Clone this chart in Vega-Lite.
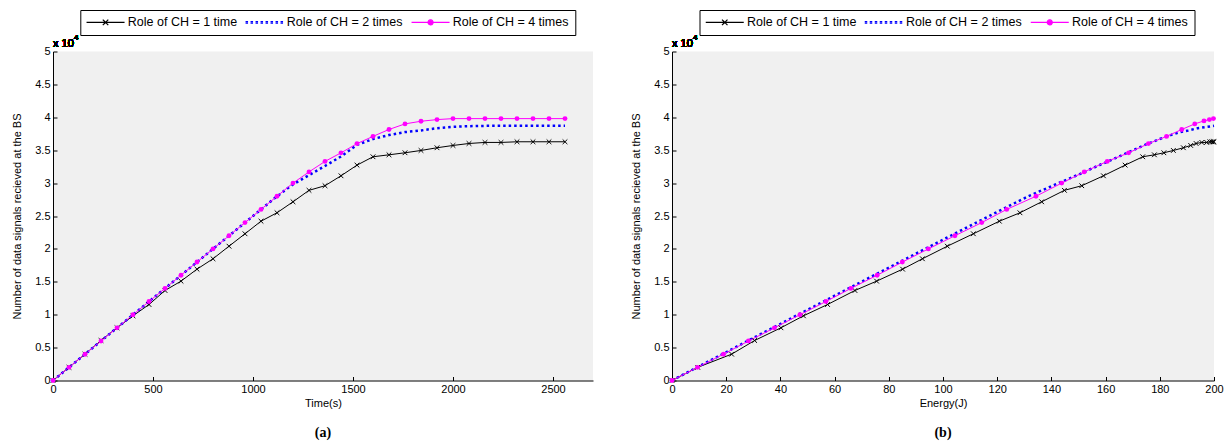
{
  "$schema": "https://vega.github.io/schema/vega-lite/v6.json",
  "padding": {"left": 11, "top": 9.5, "right": 5, "bottom": 2},
  "spacing": 37,
  "resolve": {
    "scale": {"fill": "independent", "stroke": "independent", "shape": "independent", "strokeDash": "independent"},
    "legend": {"fill": "independent", "stroke": "independent", "shape": "independent", "strokeDash": "independent"}
  },
  "config": {
    "view": {"stroke": null, "fill": "#f0f0f0"},
    "font": "Liberation Sans",
    "axis": {
      "domainColor": "#000000", "domainWidth": 1, "tickColor": "#000000", "tickSize": -4, "tickWidth": 1,
      "labelFont": "Liberation Sans", "labelFontSize": 11, "labelColor": "#000000", "labelFlush": false,
      "titleFont": "Liberation Sans", "titleFontSize": 11, "titleFontWeight": "normal", "titleColor": "#000000",
      "grid": false
    },
    "axisX": {"labelPadding": 7, "titlePadding": 3, "format": "d"},
    "axisY": {"labelPadding": 7, "titlePadding": 12.7},
    "legend": {
      "labelFont": "Liberation Sans", "labelFontSize": 12.5, "labelColor": "#000000", "labelLimit": 300,
      "strokeColor": "#000000", "fillColor": "#ffffff", "padding": 6, "columnPadding": 5,
      "symbolSize": 100, "symbolOffset": 13, "labelOffset": 16, "symbolStrokeWidth": 1.2, "symbolOpacity": 1
    },
    "title": {"font": "Liberation Serif", "fontSize": 14, "fontWeight": "bold", "color": "#000000"}
  },
  "datasets": {
    "time": [
      {"series": "Role of CH = 1 time", "time": 0, "signals": 0},
      {"series": "Role of CH = 1 time", "time": 80, "signals": 2000},
      {"series": "Role of CH = 1 time", "time": 160, "signals": 4000},
      {"series": "Role of CH = 1 time", "time": 240, "signals": 6080},
      {"series": "Role of CH = 1 time", "time": 320, "signals": 8010},
      {"series": "Role of CH = 1 time", "time": 400, "signals": 9830},
      {"series": "Role of CH = 1 time", "time": 480, "signals": 11550},
      {"series": "Role of CH = 1 time", "time": 560, "signals": 13680},
      {"series": "Role of CH = 1 time", "time": 640, "signals": 15100},
      {"series": "Role of CH = 1 time", "time": 720, "signals": 16920},
      {"series": "Role of CH = 1 time", "time": 800, "signals": 18500},
      {"series": "Role of CH = 1 time", "time": 880, "signals": 20410},
      {"series": "Role of CH = 1 time", "time": 960, "signals": 22300},
      {"series": "Role of CH = 1 time", "time": 1040, "signals": 24210},
      {"series": "Role of CH = 1 time", "time": 1120, "signals": 25490},
      {"series": "Role of CH = 1 time", "time": 1200, "signals": 27160},
      {"series": "Role of CH = 1 time", "time": 1280, "signals": 28900},
      {"series": "Role of CH = 1 time", "time": 1360, "signals": 29600},
      {"series": "Role of CH = 1 time", "time": 1440, "signals": 31110},
      {"series": "Role of CH = 1 time", "time": 1520, "signals": 32730},
      {"series": "Role of CH = 1 time", "time": 1600, "signals": 34000},
      {"series": "Role of CH = 1 time", "time": 1680, "signals": 34300},
      {"series": "Role of CH = 1 time", "time": 1760, "signals": 34610},
      {"series": "Role of CH = 1 time", "time": 1840, "signals": 34960},
      {"series": "Role of CH = 1 time", "time": 1920, "signals": 35370},
      {"series": "Role of CH = 1 time", "time": 2000, "signals": 35720},
      {"series": "Role of CH = 1 time", "time": 2080, "signals": 36020},
      {"series": "Role of CH = 1 time", "time": 2160, "signals": 36180},
      {"series": "Role of CH = 1 time", "time": 2240, "signals": 36180},
      {"series": "Role of CH = 1 time", "time": 2320, "signals": 36280},
      {"series": "Role of CH = 1 time", "time": 2400, "signals": 36280},
      {"series": "Role of CH = 1 time", "time": 2480, "signals": 36280},
      {"series": "Role of CH = 1 time", "time": 2560, "signals": 36280},
      {"series": "Role of CH = 2 times", "time": 0, "signals": 0},
      {"series": "Role of CH = 2 times", "time": 80, "signals": 2000},
      {"series": "Role of CH = 2 times", "time": 160, "signals": 4000},
      {"series": "Role of CH = 2 times", "time": 240, "signals": 6000},
      {"series": "Role of CH = 2 times", "time": 320, "signals": 8000},
      {"series": "Role of CH = 2 times", "time": 400, "signals": 10000},
      {"series": "Role of CH = 2 times", "time": 480, "signals": 12000},
      {"series": "Role of CH = 2 times", "time": 560, "signals": 14000},
      {"series": "Role of CH = 2 times", "time": 640, "signals": 16000},
      {"series": "Role of CH = 2 times", "time": 720, "signals": 18000},
      {"series": "Role of CH = 2 times", "time": 800, "signals": 20000},
      {"series": "Role of CH = 2 times", "time": 880, "signals": 22000},
      {"series": "Role of CH = 2 times", "time": 960, "signals": 24000},
      {"series": "Role of CH = 2 times", "time": 1040, "signals": 26000},
      {"series": "Role of CH = 2 times", "time": 1120, "signals": 28000},
      {"series": "Role of CH = 2 times", "time": 1200, "signals": 29800},
      {"series": "Role of CH = 2 times", "time": 1280, "signals": 31200},
      {"series": "Role of CH = 2 times", "time": 1360, "signals": 32600},
      {"series": "Role of CH = 2 times", "time": 1440, "signals": 34050},
      {"series": "Role of CH = 2 times", "time": 1520, "signals": 35800},
      {"series": "Role of CH = 2 times", "time": 1600, "signals": 36700},
      {"series": "Role of CH = 2 times", "time": 1680, "signals": 37300},
      {"series": "Role of CH = 2 times", "time": 1760, "signals": 37750},
      {"series": "Role of CH = 2 times", "time": 1840, "signals": 38000},
      {"series": "Role of CH = 2 times", "time": 1920, "signals": 38350},
      {"series": "Role of CH = 2 times", "time": 2000, "signals": 38550},
      {"series": "Role of CH = 2 times", "time": 2080, "signals": 38650},
      {"series": "Role of CH = 2 times", "time": 2160, "signals": 38700},
      {"series": "Role of CH = 2 times", "time": 2560, "signals": 38700},
      {"series": "Role of CH = 4 times", "time": 0, "signals": 0},
      {"series": "Role of CH = 4 times", "time": 80, "signals": 2000},
      {"series": "Role of CH = 4 times", "time": 160, "signals": 4000},
      {"series": "Role of CH = 4 times", "time": 240, "signals": 6000},
      {"series": "Role of CH = 4 times", "time": 320, "signals": 8000},
      {"series": "Role of CH = 4 times", "time": 400, "signals": 10000},
      {"series": "Role of CH = 4 times", "time": 480, "signals": 12000},
      {"series": "Role of CH = 4 times", "time": 560, "signals": 14000},
      {"series": "Role of CH = 4 times", "time": 640, "signals": 16000},
      {"series": "Role of CH = 4 times", "time": 720, "signals": 18000},
      {"series": "Role of CH = 4 times", "time": 800, "signals": 20000},
      {"series": "Role of CH = 4 times", "time": 880, "signals": 22000},
      {"series": "Role of CH = 4 times", "time": 960, "signals": 24000},
      {"series": "Role of CH = 4 times", "time": 1040, "signals": 26000},
      {"series": "Role of CH = 4 times", "time": 1120, "signals": 28000},
      {"series": "Role of CH = 4 times", "time": 1200, "signals": 30000},
      {"series": "Role of CH = 4 times", "time": 1280, "signals": 31700},
      {"series": "Role of CH = 4 times", "time": 1360, "signals": 33300},
      {"series": "Role of CH = 4 times", "time": 1440, "signals": 34600},
      {"series": "Role of CH = 4 times", "time": 1520, "signals": 36000},
      {"series": "Role of CH = 4 times", "time": 1600, "signals": 37100},
      {"series": "Role of CH = 4 times", "time": 1680, "signals": 38150},
      {"series": "Role of CH = 4 times", "time": 1760, "signals": 39000},
      {"series": "Role of CH = 4 times", "time": 1840, "signals": 39400},
      {"series": "Role of CH = 4 times", "time": 1920, "signals": 39650},
      {"series": "Role of CH = 4 times", "time": 2000, "signals": 39800},
      {"series": "Role of CH = 4 times", "time": 2080, "signals": 39800},
      {"series": "Role of CH = 4 times", "time": 2160, "signals": 39800},
      {"series": "Role of CH = 4 times", "time": 2240, "signals": 39800},
      {"series": "Role of CH = 4 times", "time": 2320, "signals": 39800},
      {"series": "Role of CH = 4 times", "time": 2400, "signals": 39800},
      {"series": "Role of CH = 4 times", "time": 2480, "signals": 39800},
      {"series": "Role of CH = 4 times", "time": 2560, "signals": 39800}
    ],
    "energy": [
      {"series": "Role of CH = 1 time", "energy": 0, "signals": 0},
      {"series": "Role of CH = 1 time", "energy": 9.5, "signals": 2000},
      {"series": "Role of CH = 1 time", "energy": 22, "signals": 4000},
      {"series": "Role of CH = 1 time", "energy": 30.5, "signals": 6080},
      {"series": "Role of CH = 1 time", "energy": 40.2, "signals": 8010},
      {"series": "Role of CH = 1 time", "energy": 48.5, "signals": 9830},
      {"series": "Role of CH = 1 time", "energy": 57.4, "signals": 11550},
      {"series": "Role of CH = 1 time", "energy": 67.5, "signals": 13680},
      {"series": "Role of CH = 1 time", "energy": 75.5, "signals": 15100},
      {"series": "Role of CH = 1 time", "energy": 85.1, "signals": 16920},
      {"series": "Role of CH = 1 time", "energy": 92.4, "signals": 18500},
      {"series": "Role of CH = 1 time", "energy": 101.6, "signals": 20410},
      {"series": "Role of CH = 1 time", "energy": 111.2, "signals": 22300},
      {"series": "Role of CH = 1 time", "energy": 120.8, "signals": 24210},
      {"series": "Role of CH = 1 time", "energy": 128.4, "signals": 25490},
      {"series": "Role of CH = 1 time", "energy": 136.4, "signals": 27160},
      {"series": "Role of CH = 1 time", "energy": 144.8, "signals": 28900},
      {"series": "Role of CH = 1 time", "energy": 151.2, "signals": 29600},
      {"series": "Role of CH = 1 time", "energy": 159.2, "signals": 31110},
      {"series": "Role of CH = 1 time", "energy": 167.2, "signals": 32730},
      {"series": "Role of CH = 1 time", "energy": 173.7, "signals": 34000},
      {"series": "Role of CH = 1 time", "energy": 178.0, "signals": 34300},
      {"series": "Role of CH = 1 time", "energy": 181.5, "signals": 34610},
      {"series": "Role of CH = 1 time", "energy": 185.0, "signals": 34960},
      {"series": "Role of CH = 1 time", "energy": 188.7, "signals": 35370},
      {"series": "Role of CH = 1 time", "energy": 191.4, "signals": 35720},
      {"series": "Role of CH = 1 time", "energy": 193.4, "signals": 36020},
      {"series": "Role of CH = 1 time", "energy": 195.5, "signals": 36180},
      {"series": "Role of CH = 1 time", "energy": 197.3, "signals": 36180},
      {"series": "Role of CH = 1 time", "energy": 198.5, "signals": 36280},
      {"series": "Role of CH = 1 time", "energy": 199.2, "signals": 36280},
      {"series": "Role of CH = 1 time", "energy": 199.7, "signals": 36280},
      {"series": "Role of CH = 1 time", "energy": 200, "signals": 36280},
      {"series": "Role of CH = 2 times", "energy": 0, "signals": 0},
      {"series": "Role of CH = 2 times", "energy": 9.2, "signals": 2000},
      {"series": "Role of CH = 2 times", "energy": 18.6, "signals": 4000},
      {"series": "Role of CH = 2 times", "energy": 27.8, "signals": 6000},
      {"series": "Role of CH = 2 times", "energy": 37.2, "signals": 8000},
      {"series": "Role of CH = 2 times", "energy": 46.5, "signals": 10000},
      {"series": "Role of CH = 2 times", "energy": 55.9, "signals": 12000},
      {"series": "Role of CH = 2 times", "energy": 65.2, "signals": 14000},
      {"series": "Role of CH = 2 times", "energy": 74.6, "signals": 16000},
      {"series": "Role of CH = 2 times", "energy": 84, "signals": 18000},
      {"series": "Role of CH = 2 times", "energy": 93.4, "signals": 20000},
      {"series": "Role of CH = 2 times", "energy": 102.8, "signals": 22000},
      {"series": "Role of CH = 2 times", "energy": 112.3, "signals": 24000},
      {"series": "Role of CH = 2 times", "energy": 121.8, "signals": 26000},
      {"series": "Role of CH = 2 times", "energy": 131.5, "signals": 28000},
      {"series": "Role of CH = 2 times", "energy": 141.5, "signals": 29800},
      {"series": "Role of CH = 2 times", "energy": 149.5, "signals": 31200},
      {"series": "Role of CH = 2 times", "energy": 157, "signals": 32600},
      {"series": "Role of CH = 2 times", "energy": 165, "signals": 34050},
      {"series": "Role of CH = 2 times", "energy": 174.5, "signals": 35800},
      {"series": "Role of CH = 2 times", "energy": 180, "signals": 36700},
      {"series": "Role of CH = 2 times", "energy": 184, "signals": 37300},
      {"series": "Role of CH = 2 times", "energy": 187.5, "signals": 37750},
      {"series": "Role of CH = 2 times", "energy": 190.5, "signals": 38000},
      {"series": "Role of CH = 2 times", "energy": 194, "signals": 38350},
      {"series": "Role of CH = 2 times", "energy": 197.5, "signals": 38550},
      {"series": "Role of CH = 2 times", "energy": 200, "signals": 38700},
      {"series": "Role of CH = 4 times", "energy": 0, "signals": 0},
      {"series": "Role of CH = 4 times", "energy": 9.4, "signals": 2000},
      {"series": "Role of CH = 4 times", "energy": 19, "signals": 4000},
      {"series": "Role of CH = 4 times", "energy": 28.2, "signals": 6000},
      {"series": "Role of CH = 4 times", "energy": 37.8, "signals": 8000},
      {"series": "Role of CH = 4 times", "energy": 47.2, "signals": 10000},
      {"series": "Role of CH = 4 times", "energy": 56.8, "signals": 12000},
      {"series": "Role of CH = 4 times", "energy": 66, "signals": 14000},
      {"series": "Role of CH = 4 times", "energy": 75.7, "signals": 16000},
      {"series": "Role of CH = 4 times", "energy": 85, "signals": 18000},
      {"series": "Role of CH = 4 times", "energy": 94.6, "signals": 20000},
      {"series": "Role of CH = 4 times", "energy": 104.4, "signals": 22000},
      {"series": "Role of CH = 4 times", "energy": 114.3, "signals": 24000},
      {"series": "Role of CH = 4 times", "energy": 123.5, "signals": 26000},
      {"series": "Role of CH = 4 times", "energy": 134.3, "signals": 28000},
      {"series": "Role of CH = 4 times", "energy": 143.8, "signals": 30000},
      {"series": "Role of CH = 4 times", "energy": 152.1, "signals": 31700},
      {"series": "Role of CH = 4 times", "energy": 160.6, "signals": 33300},
      {"series": "Role of CH = 4 times", "energy": 168.5, "signals": 34600},
      {"series": "Role of CH = 4 times", "energy": 175.8, "signals": 36000},
      {"series": "Role of CH = 4 times", "energy": 182.5, "signals": 37100},
      {"series": "Role of CH = 4 times", "energy": 188.1, "signals": 38150},
      {"series": "Role of CH = 4 times", "energy": 192.9, "signals": 39000},
      {"series": "Role of CH = 4 times", "energy": 196.3, "signals": 39450},
      {"series": "Role of CH = 4 times", "energy": 198.3, "signals": 39650},
      {"series": "Role of CH = 4 times", "energy": 199.8, "signals": 39800}
    ]
  },
  "hconcat": [
    {
      "width": 540, "height": 329,
      "data": {"name": "time"},
      "title": {"text": "(a)", "orient": "bottom", "offset": 17},
      "encoding": {
        "x": {"field": "time", "type": "quantitative", "scale": {"domain": [0, 2700], "nice": false}, "axis": {"values": [0, 500, 1000, 1500, 2000, 2500], "title": "Time(s)"}},
        "y": {"field": "signals", "type": "quantitative", "scale": {"domain": [0, 50000], "nice": false}, "axis": {"values": [0, 5000, 10000, 15000, 20000, 25000, 30000, 35000, 40000, 45000, 50000], "labelExpr": "datum.value / 10000", "title": "Number of data signals recieved at the BS"}}
      },
      "layer": [
        {"transform": [{"filter": "datum.series === 'Role of CH = 1 time'"}], "mark": {"type": "line", "color": "#000000", "strokeWidth": 1}},
        {"transform": [{"filter": "datum.series === 'Role of CH = 2 times'"}], "mark": {"type": "line", "color": "#0000ff", "strokeWidth": 2.5, "strokeDash": [2.5, 3], "strokeCap": "butt"}},
        {"transform": [{"filter": "datum.series === 'Role of CH = 4 times'"}], "mark": {"type": "line", "color": "#ff00ff", "strokeWidth": 1}},
        {"transform": [{"filter": "datum.series === 'Role of CH = 1 time'"}], "mark": {"type": "point", "shape": "M-1,-1L1,1M-1,1L1,-1", "size": 22, "filled": false, "color": "#000000", "strokeWidth": 1, "opacity": 1}},
        {"transform": [{"filter": "datum.series === 'Role of CH = 4 times'"}], "mark": {"type": "circle", "size": 24, "color": "#ff00ff", "opacity": 1}},
        {
          "transform": [{"filter": "false"}],
          "mark": {"type": "point", "filled": true, "opacity": 1, "strokeWidth": 1.2},
          "encoding": {
            "fill": {"field": "series", "type": "nominal", "title": null, "scale": {"domain": ["Role of CH = 1 time", "Role of CH = 2 times", "Role of CH = 4 times"], "range": ["#000000", "#0000ff", "#ff00ff"]}, "legend": {"orient": "none", "legendX": 27.3, "legendY": -41.5, "direction": "horizontal", "columns": 3}},
            "stroke": {"field": "series", "type": "nominal", "title": null, "scale": {"domain": ["Role of CH = 1 time", "Role of CH = 2 times", "Role of CH = 4 times"], "range": ["#000000", "#0000ff", "#ff00ff"]}},
            "shape": {"field": "series", "type": "nominal", "title": null, "scale": {"domain": ["Role of CH = 1 time", "Role of CH = 2 times", "Role of CH = 4 times"], "range": ["M-3.8,0H3.8M-0.55,-0.55L0.55,0.55M-0.55,0.55L0.55,-0.55", "M-3.8,-0.15H3.8M-3.8,0.15H3.8", "M-3.8,0H3.8M0.5,0A0.5,0.5,0,1,1,-0.5,0A0.5,0.5,0,1,1,0.5,0"]}},
            "strokeDash": {"field": "series", "type": "nominal", "title": null, "scale": {"domain": ["Role of CH = 1 time", "Role of CH = 2 times", "Role of CH = 4 times"], "range": [[1, 0], [2.5, 2.5], [1, 0]]}}
          }
        },
        {"mark": {"type": "text", "text": "x 10", "align": "left", "baseline": "alphabetic", "dx": 0, "dy": -5, "font": "Liberation Sans", "fontSize": 11, "color": "#000000"}, "encoding": {"x": {"datum": 0}, "y": {"datum": 50000}}},
        {"mark": {"type": "text", "text": "4", "align": "left", "baseline": "alphabetic", "dx": 21, "dy": -12, "font": "Liberation Sans", "fontSize": 8, "color": "#000000"}, "encoding": {"x": {"datum": 0}, "y": {"datum": 50000}}}
      ]
    },
    {
      "width": 542, "height": 329,
      "data": {"name": "energy"},
      "title": {"text": "(b)", "orient": "bottom", "offset": 17},
      "encoding": {
        "x": {"field": "energy", "type": "quantitative", "scale": {"domain": [0, 200], "nice": false}, "axis": {"values": [0, 20, 40, 60, 80, 100, 120, 140, 160, 180, 200], "title": "Energy(J)"}},
        "y": {"field": "signals", "type": "quantitative", "scale": {"domain": [0, 50000], "nice": false}, "axis": {"values": [0, 5000, 10000, 15000, 20000, 25000, 30000, 35000, 40000, 45000, 50000], "labelExpr": "datum.value / 10000", "title": "Number of data signals recieved at the BS"}}
      },
      "layer": [
        {"transform": [{"filter": "datum.series === 'Role of CH = 1 time'"}], "mark": {"type": "line", "color": "#000000", "strokeWidth": 1}},
        {"transform": [{"filter": "datum.series === 'Role of CH = 2 times'"}], "mark": {"type": "line", "color": "#0000ff", "strokeWidth": 2.5, "strokeDash": [2.5, 3], "strokeCap": "butt"}},
        {"transform": [{"filter": "datum.series === 'Role of CH = 4 times'"}], "mark": {"type": "line", "color": "#ff00ff", "strokeWidth": 1}},
        {"transform": [{"filter": "datum.series === 'Role of CH = 1 time'"}], "mark": {"type": "point", "shape": "M-1,-1L1,1M-1,1L1,-1", "size": 22, "filled": false, "color": "#000000", "strokeWidth": 1, "opacity": 1}},
        {"transform": [{"filter": "datum.series === 'Role of CH = 4 times'"}], "mark": {"type": "circle", "size": 24, "color": "#ff00ff", "opacity": 1}},
        {
          "transform": [{"filter": "false"}],
          "mark": {"type": "point", "filled": true, "opacity": 1, "strokeWidth": 1.2},
          "encoding": {
            "fill": {"field": "series", "type": "nominal", "title": null, "scale": {"domain": ["Role of CH = 1 time", "Role of CH = 2 times", "Role of CH = 4 times"], "range": ["#000000", "#0000ff", "#ff00ff"]}, "legend": {"orient": "none", "legendX": 27.5, "legendY": -41.5, "direction": "horizontal", "columns": 3}},
            "stroke": {"field": "series", "type": "nominal", "title": null, "scale": {"domain": ["Role of CH = 1 time", "Role of CH = 2 times", "Role of CH = 4 times"], "range": ["#000000", "#0000ff", "#ff00ff"]}},
            "shape": {"field": "series", "type": "nominal", "title": null, "scale": {"domain": ["Role of CH = 1 time", "Role of CH = 2 times", "Role of CH = 4 times"], "range": ["M-3.8,0H3.8M-0.55,-0.55L0.55,0.55M-0.55,0.55L0.55,-0.55", "M-3.8,-0.15H3.8M-3.8,0.15H3.8", "M-3.8,0H3.8M0.5,0A0.5,0.5,0,1,1,-0.5,0A0.5,0.5,0,1,1,0.5,0"]}},
            "strokeDash": {"field": "series", "type": "nominal", "title": null, "scale": {"domain": ["Role of CH = 1 time", "Role of CH = 2 times", "Role of CH = 4 times"], "range": [[1, 0], [2.5, 2.5], [1, 0]]}}
          }
        },
        {"mark": {"type": "text", "text": "x 10", "align": "left", "baseline": "alphabetic", "dx": 0, "dy": -5, "font": "Liberation Sans", "fontSize": 11, "color": "#000000"}, "encoding": {"x": {"datum": 0}, "y": {"datum": 50000}}},
        {"mark": {"type": "text", "text": "4", "align": "left", "baseline": "alphabetic", "dx": 21, "dy": -12, "font": "Liberation Sans", "fontSize": 8, "color": "#000000"}, "encoding": {"x": {"datum": 0}, "y": {"datum": 50000}}}
      ]
    }
  ]
}
